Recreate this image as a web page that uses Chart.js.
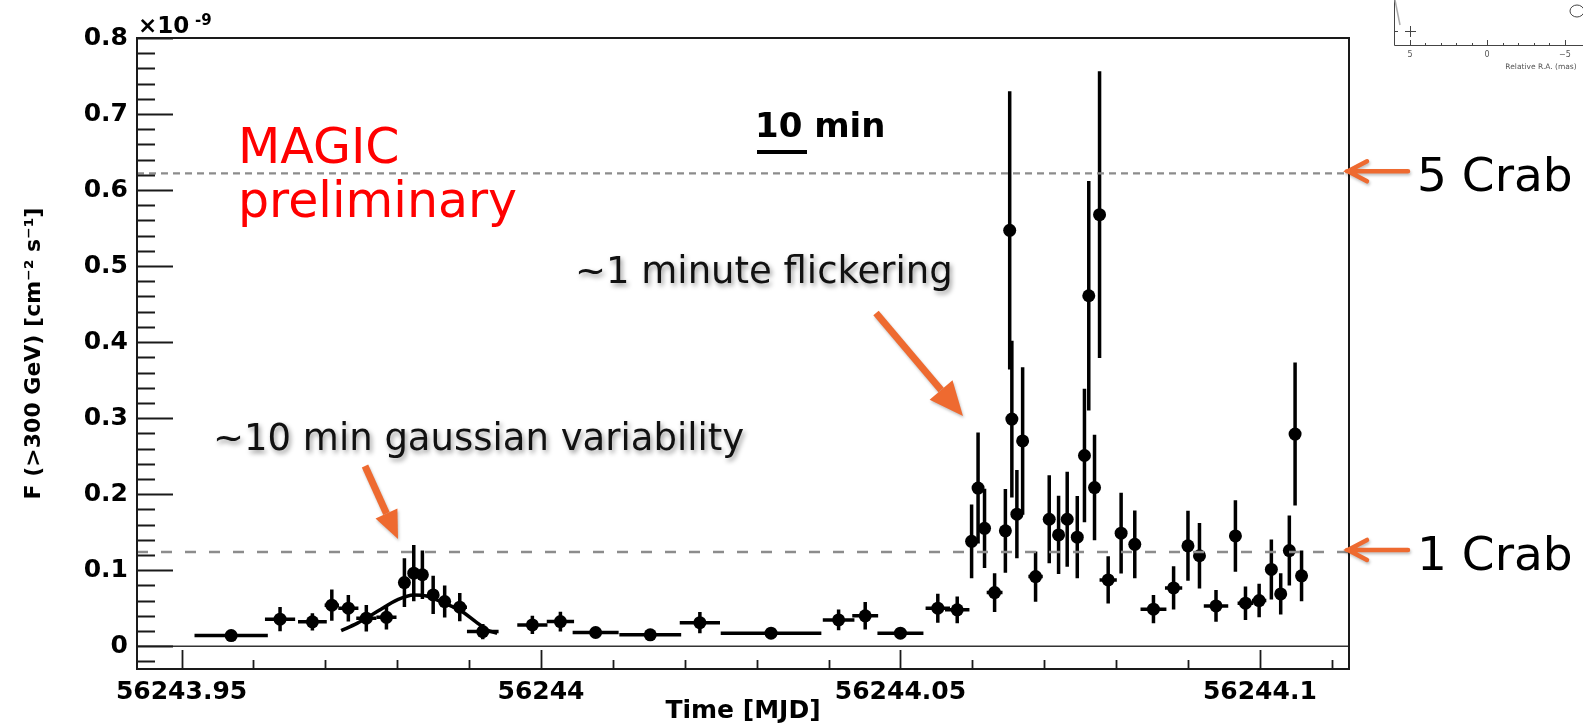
<!DOCTYPE html>
<html>
<head>
<meta charset="utf-8">
<script src="https://cdn.jsdelivr.net/npm/chart.js@4.4.1/dist/chart.umd.min.js"></script>
<style>
html, body { margin: 0; padding: 0; background: #fff; }
#wrap { position: relative; width: 1583px; height: 728px; }
</style>
</head>
<body>
<div id="wrap"><canvas id="lc" width="1583" height="728"></canvas></div>
<script>
// light curve, flux in units of 1e-9 cm^-2 s^-1
const timeMJD = [
    56243.9569, 56243.9637, 56243.9682, 56243.9709, 56243.9732, 56243.9757, 56243.9785, 56243.9810,
    56243.9823, 56243.9835, 56243.9850, 56243.9866, 56243.9887, 56243.9919, 56243.9988, 56244.0027,
    56244.0076, 56244.0152, 56244.0221, 56244.0320, 56244.0414, 56244.0451, 56244.0500, 56244.0552,
    56244.0579, 56244.0599, 56244.0608, 56244.0617, 56244.0631, 56244.0646, 56244.0652, 56244.0655,
    56244.0662, 56244.0670, 56244.0688, 56244.0707, 56244.0720, 56244.0732, 56244.0746, 56244.0756,
    56244.0762, 56244.0770, 56244.0777, 56244.0789, 56244.0807, 56244.0826, 56244.0852, 56244.0880,
    56244.0900, 56244.0916, 56244.0939, 56244.0966, 56244.0980, 56244.0999, 56244.1016, 56244.1029,
    56244.1041, 56244.1049, 56244.1058
];
const timeErr = [
    0.0051, 0.0021, 0.0020, 0.0010, 0.0014, 0.0014, 0.0014, 0.0004,
    0.0004, 0.0004, 0.0006, 0.0007, 0.0010, 0.0022, 0.0021, 0.0019,
    0.0032, 0.0043, 0.0028, 0.0070, 0.0022, 0.0018, 0.0032, 0.0017,
    0.0017, 0.0003, 0.0003, 0.0003, 0.0011, 0.0003, 0.0003, 0.0003,
    0.0003, 0.0003, 0.0010, 0.0003, 0.0003, 0.0003, 0.0003, 0.0003,
    0.0003, 0.0003, 0.0003, 0.0012, 0.0003, 0.0003, 0.0018, 0.0012,
    0.0003, 0.0003, 0.0017, 0.0003, 0.0011, 0.0010, 0.0003, 0.0003,
    0.0003, 0.0003, 0.0003
];
const flux = [
    0.014, 0.0355, 0.032, 0.054, 0.050, 0.0368, 0.038, 0.0837,
    0.096, 0.094, 0.0675, 0.0587, 0.0513, 0.0192, 0.028, 0.0324,
    0.018, 0.0149, 0.031, 0.0171, 0.0346, 0.040, 0.0171, 0.050,
    0.0478, 0.138, 0.208, 0.155, 0.0705, 0.1517, 0.547, 0.2987,
    0.1737, 0.270, 0.0916, 0.167, 0.1464, 0.167, 0.1434, 0.2508,
    0.461, 0.2087, 0.5676, 0.0872, 0.1487, 0.134, 0.0487, 0.0767,
    0.132, 0.119, 0.053, 0.145, 0.0566, 0.060, 0.101, 0.0688,
    0.1258, 0.279, 0.0925
];
const fluxErr = [
    0.004, 0.016, 0.0114, 0.0206, 0.0175, 0.0175, 0.016, 0.032,
    0.037, 0.032, 0.025, 0.021, 0.0186, 0.010, 0.012, 0.013,
    0.006, 0.005, 0.014, 0.004, 0.0136, 0.018, 0.005, 0.019,
    0.0175, 0.0485, 0.073, 0.052, 0.0255, 0.055, 0.183, 0.103,
    0.058, 0.097, 0.033, 0.058, 0.0515, 0.0625, 0.054, 0.0877,
    0.151, 0.0695, 0.1886, 0.031, 0.053, 0.0445, 0.0186, 0.0285,
    0.046, 0.043, 0.021, 0.047, 0.022, 0.022, 0.0395, 0.027,
    0.046, 0.094, 0.0335
];

// gaussian fit
const fitTime = [56243.9722, 56243.9744, 56243.9772, 56243.9800, 56243.9823, 56243.9841,
                 56243.9865, 56243.9888, 56243.9909, 56243.9925, 56243.9939];
const fitFlux = [0.0205, 0.030, 0.0455, 0.061, 0.0675, 0.066, 0.0566, 0.047, 0.0324, 0.0214, 0.017];

const crabLevels = [0.124, 0.622];
const crabLabels = ['1 Crab', '5 Crab'];

const xTickValues = [56243.95, 56244, 56244.05, 56244.1];
const xTickLabels = ['56243.95', '56244', '56244.05', '56244.1'];
const yTickValues = [0, 0.1, 0.2, 0.3, 0.4, 0.5, 0.6, 0.7, 0.8];
const yTickLabels = ['0', '0.1', '0.2', '0.3', '0.4', '0.5', '0.6', '0.7', '0.8'];

const X_MIN = 56243.9438, X_MAX = 56244.1124;
const Y_MIN = -0.03, Y_MAX = 0.8;
const ORANGE = '#ee6a30';

// error bars under the markers
const errorBars = {
    id: 'errorBars',
    beforeDatasetsDraw(chart) {
        const {ctx, scales: {x, y}} = chart;
        ctx.save();
        ctx.strokeStyle = '#000';
        ctx.lineWidth = 3.5;
        for (let i = 0; i < timeMJD.length; i++) {
            const px = x.getPixelForValue(timeMJD[i]);
            const py = y.getPixelForValue(flux[i]);
            ctx.beginPath();
            ctx.moveTo(x.getPixelForValue(timeMJD[i] - timeErr[i]), py);
            ctx.lineTo(x.getPixelForValue(timeMJD[i] + timeErr[i]), py);
            ctx.moveTo(px, y.getPixelForValue(flux[i] - fluxErr[i]));
            ctx.lineTo(px, y.getPixelForValue(flux[i] + fluxErr[i]));
            ctx.stroke();
        }
        // zero line
        const y0 = y.getPixelForValue(0);
        ctx.strokeStyle = '#333';
        ctx.lineWidth = 1.6;
        ctx.beginPath();
        ctx.moveTo(chart.chartArea.left, y0);
        ctx.lineTo(chart.chartArea.right, y0);
        ctx.stroke();
        ctx.restore();
    }
};

// ROOT style frame with inner ticks
const rootFrame = {
    id: 'rootFrame',
    afterDatasetsDraw(chart) {
        const {ctx, chartArea: a, scales: {x, y}} = chart;
        ctx.save();
        ctx.strokeStyle = '#1a1a1a';
        ctx.lineWidth = 2;
        ctx.strokeRect(a.left, a.top, a.right - a.left, a.bottom - a.top);
        ctx.lineWidth = 1.8;
        ctx.beginPath();
        for (let k = -1; k <= 40; k++) {
            const v = k * 0.02;
            if (v < Y_MIN || v > Y_MAX + 1e-9) continue;
            const py = Math.round(y.getPixelForValue(v)) + 0.5;
            const len = (k % 5 === 0) ? 36 : 18;
            ctx.moveTo(a.left, py);
            ctx.lineTo(a.left + len, py);
        }
        for (let k = 0; k <= 20; k++) {
            const v = 56243.94 + k * 0.01;
            if (v < X_MIN || v > X_MAX) continue;
            const px = Math.round(x.getPixelForValue(v)) + 0.5;
            const len = (k % 5 === 1) ? 19 : 9;
            ctx.moveTo(px, a.bottom);
            ctx.lineTo(px, a.bottom - len);
        }
        ctx.stroke();
        ctx.restore();
    }
};

function lineArrow(ctx, x1, y, x2) {
    ctx.beginPath();
    ctx.moveTo(x1, y);
    ctx.lineTo(x2, y);
    ctx.moveTo(x2 + 20, y - 10);
    ctx.lineTo(x2 + 1, y);
    ctx.lineTo(x2 + 20, y + 10);
    ctx.stroke();
}

function fatArrow(ctx, x1, y1, x2, y2, head, half, width) {
    const ang = Math.atan2(y2 - y1, x2 - x1);
    const bx = x2 - head * Math.cos(ang), by = y2 - head * Math.sin(ang);
    ctx.lineWidth = width;
    ctx.beginPath();
    ctx.moveTo(x1, y1);
    ctx.lineTo(bx, by);
    ctx.stroke();
    ctx.beginPath();
    ctx.moveTo(x2, y2);
    ctx.lineTo(bx + half * Math.sin(ang), by - half * Math.cos(ang));
    ctx.lineTo(bx - half * Math.sin(ang), by + half * Math.cos(ang));
    ctx.closePath();
    ctx.fill();
}

const annotations = {
    id: 'annotations',
    afterDraw(chart) {
        const {ctx, scales: {y}} = chart;
        ctx.save();

        // exponent of the y axis
        ctx.fillStyle = '#000';
        ctx.textAlign = 'left';
        ctx.textBaseline = 'alphabetic';
        ctx.font = 'bold 23px "DejaVu Sans"';
        ctx.fillText('×10', 138, 33);
        ctx.font = 'bold 15px "DejaVu Sans"';
        ctx.fillText('-9', 195, 25);

        // MAGIC preliminary
        ctx.fillStyle = '#ff0000';
        ctx.font = '49px "DejaVu Sans"';
        ctx.fillText('MAGIC', 238, 163);
        ctx.fillText('preliminary', 238, 217);

        // 10 min scale
        ctx.fillStyle = '#000';
        ctx.font = 'bold 34px "DejaVu Sans"';
        ctx.fillText('10 min', 755, 137);
        ctx.fillRect(757, 150, 50, 4);

        // comment texts with a soft shadow
        ctx.shadowColor = 'rgba(0,0,0,0.4)';
        ctx.shadowBlur = 5;
        ctx.shadowOffsetX = 2;
        ctx.shadowOffsetY = 3;
        ctx.fillStyle = '#111';
        ctx.font = '37px "DejaVu Sans"';
        ctx.fillText('~1 minute flickering', 575, 283);
        ctx.fillText('~10 min gaussian variability', 213, 450);

        // orange arrows
        ctx.shadowColor = 'rgba(0,0,0,0.25)';
        ctx.shadowBlur = 3;
        ctx.shadowOffsetX = 1;
        ctx.shadowOffsetY = 2;
        ctx.fillStyle = ORANGE;
        ctx.strokeStyle = ORANGE;
        fatArrow(ctx, 365, 466, 398, 539, 28, 12, 7);
        fatArrow(ctx, 876, 313, 963, 416, 34, 15, 7);
        ctx.lineWidth = 4.5;
        ctx.lineCap = 'round';
        crabLevels.forEach((lv, i) => {
            const py = y.getPixelForValue(lv) - 2;
            lineArrow(ctx, 1408, py, 1347);
        });
        ctx.shadowColor = 'transparent';
        ctx.fillStyle = '#000';
        ctx.font = '47px "DejaVu Sans"';
        crabLevels.forEach((lv, i) => {
            const py = y.getPixelForValue(lv) - 2;
            ctx.fillText(crabLabels[i], 1417, py + 20);
        });

        // corner of another figure in the top right
        ctx.strokeStyle = '#444';
        ctx.fillStyle = '#555';
        ctx.lineWidth = 1;
        ctx.lineCap = 'butt';
        ctx.beginPath();
        ctx.moveTo(1394.5, 0);
        ctx.lineTo(1394.5, 45.5);
        ctx.lineTo(1583, 45.5);
        [1410, 1487, 1565].forEach(t => { ctx.moveTo(t + 0.5, 45); ctx.lineTo(t + 0.5, 40); });
        [1425, 1441, 1456, 1472, 1503, 1518, 1534, 1549].forEach(t => { ctx.moveTo(t + 0.5, 45); ctx.lineTo(t + 0.5, 43); });
        ctx.moveTo(1394, 31.5); ctx.lineTo(1398, 31.5);
        ctx.moveTo(1405, 31.5); ctx.lineTo(1416, 31.5);
        ctx.moveTo(1410.5, 26); ctx.lineTo(1410.5, 37);
        ctx.stroke();
        ctx.beginPath();
        ctx.ellipse(1577, 11, 7, 6, 0, 0, Math.PI * 2);
        ctx.stroke();
        ctx.strokeStyle = '#aaa';
        ctx.lineWidth = 1.5;
        ctx.beginPath();
        ctx.moveTo(1395, 0);
        ctx.lineTo(1400, 25);
        ctx.stroke();
        ctx.font = '8px "DejaVu Sans"';
        ctx.textAlign = 'center';
        ctx.fillText('5', 1410, 57);
        ctx.fillText('0', 1487, 57);
        ctx.fillText('−5', 1565, 57);
        ctx.font = '7.5px "DejaVu Sans"';
        ctx.fillText('Relative R.A. (mas)', 1541, 69);

        ctx.restore();
    }
};

const ctx = document.getElementById('lc').getContext('2d');
const chart = new Chart(ctx, {
    type: 'scatter',
    data: {
        datasets: [
            {
                label: '1 Crab',
                data: [{x: X_MIN, y: crabLevels[0]}, {x: X_MAX, y: crabLevels[0]}],
                showLine: true,
                borderColor: '#8c8c8c',
                borderWidth: 2.5,
                borderDash: [11, 13],
                pointRadius: 0,
                order: 0
            },
            {
                label: '5 Crab',
                data: [{x: X_MIN, y: crabLevels[1]}, {x: X_MAX, y: crabLevels[1]}],
                showLine: true,
                borderColor: '#8c8c8c',
                borderWidth: 2.2,
                borderDash: [7, 5],
                pointRadius: 0,
                order: 0
            },
            {
                label: 'gaussian fit',
                data: fitTime.map((t, i) => ({x: t, y: fitFlux[i]})),
                showLine: true,
                borderColor: '#000',
                borderWidth: 3.5,
                cubicInterpolationMode: 'monotone',
                pointRadius: 0,
                order: 1
            },
            {
                label: 'F (>300 GeV)',
                data: timeMJD.map((t, i) => ({x: t, y: flux[i]})),
                backgroundColor: '#000',
                borderColor: '#000',
                pointRadius: 6.5,
                pointBorderWidth: 0,
                order: 2
            }
        ]
    },
    options: {
        responsive: false,
        animation: false,
        devicePixelRatio: 1,
        layout: { padding: { left: 0, top: 38, right: 234, bottom: 0 } },
        plugins: {
            legend: { display: false },
            tooltip: { enabled: false }
        },
        scales: {
            x: {
                type: 'linear',
                min: X_MIN,
                max: X_MAX,
                grid: { display: false, drawTicks: false },
                border: { display: false },
                afterBuildTicks: s => { s.ticks = xTickValues.map(v => ({value: v})); },
                afterFit: s => { s.height = 59; },
                ticks: {
                    padding: 8,
                    color: '#000',
                    maxRotation: 0,
                    font: { family: 'DejaVu Sans', weight: 'bold', size: 25 },
                    callback: (v, i) => xTickLabels[i]
                },
                title: {
                    display: true,
                    text: 'Time [MJD]',
                    color: '#000',
                    font: { family: 'DejaVu Sans', weight: 'bold', size: 25 },
                    padding: { top: 0, bottom: 2 }
                }
            },
            y: {
                type: 'linear',
                min: Y_MIN,
                max: Y_MAX,
                grid: { display: false, drawTicks: false },
                border: { display: false },
                afterBuildTicks: s => { s.ticks = yTickValues.map(v => ({value: v})); },
                afterFit: s => { s.width = 137; },
                ticks: {
                    padding: 9,
                    color: '#000',
                    font: { family: 'DejaVu Sans', weight: 'bold', size: 25 },
                    callback: (v, i) => yTickLabels[i]
                },
                title: {
                    display: true,
                    text: 'F (>300 GeV) [cm⁻² s⁻¹]',
                    color: '#000',
                    font: { family: 'DejaVu Sans', weight: 'bold', size: 22 },
                    padding: { top: 21, bottom: 0 }
                }
            }
        }
    },
    plugins: [errorBars, rootFrame, annotations]
});
</script>
</body>
</html>
